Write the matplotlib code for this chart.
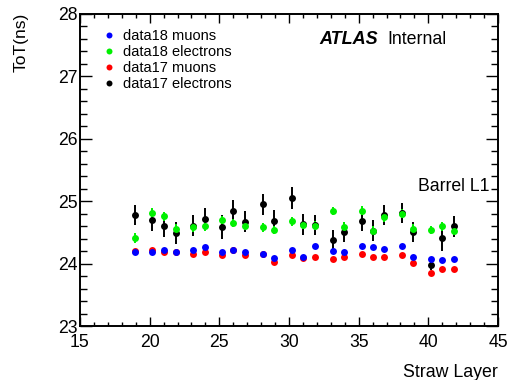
import matplotlib
matplotlib.use('Agg')
from matplotlib import pyplot as plt
from matplotlib.lines import Line2D
from matplotlib.ticker import MultipleLocator

plt.rcParams['font.family'] = ['Liberation Sans', 'DejaVu Sans']

# straw layer positions (24 layers of barrel L1)
layer = [18.95, 20.19, 21.03, 21.87, 23.13, 23.97, 25.22, 26.0, 26.85, 28.12, 28.95, 30.2,
         31.03, 31.87, 33.14, 33.95, 35.22, 36.06, 36.85, 38.14, 38.93, 40.2, 41.0, 41.85]

data18_muons = [24.19, 24.18, 24.21, 24.18, 24.22, 24.26, 24.19, 24.21, 24.19, 24.16, 24.09, 24.22,
                24.10, 24.29, 24.20, 24.19, 24.29, 24.26, 24.23, 24.29, 24.11, 24.07, 24.05, 24.07]
data18_muons_err = [0.01] * 24

data18_electrons = [24.41, 24.81, 24.76, 24.56, 24.58, 24.60, 24.70, 24.65, 24.61, 24.58, 24.54, 24.68,
                    24.62, 24.61, 24.84, 24.59, 24.85, 24.53, 24.74, 24.80, 24.56, 24.54, 24.60, 24.53]
data18_electrons_err = [0.08, 0.08, 0.07, 0.07, 0.07, 0.07, 0.07, 0.07, 0.07, 0.07, 0.07, 0.07,
                        0.07, 0.07, 0.06, 0.07, 0.07, 0.07, 0.07, 0.07, 0.07, 0.06, 0.07, 0.07]

data17_muons = [24.20, 24.21, 24.18, 24.18, 24.15, 24.18, 24.14, 24.21, 24.14, 24.15, 24.03, 24.14,
                24.09, 24.11, 24.08, 24.11, 24.16, 24.10, 24.11, 24.14, 24.01, 23.85, 23.92, 23.92]
data17_muons_err = [0.01] * 24

data17_electrons = [24.78, 24.70, 24.61, 24.49, 24.61, 24.72, 24.59, 24.85, 24.67, 24.95, 24.69, 25.05,
                    24.63, 24.62, 24.38, 24.51, 24.69, 24.53, 24.78, 24.81, 24.50, 23.97, 24.41, 24.60]
data17_electrons_err = [0.16, 0.17, 0.19, 0.17, 0.17, 0.17, 0.19, 0.17, 0.17, 0.17, 0.17, 0.17,
                        0.17, 0.16, 0.16, 0.16, 0.17, 0.17, 0.16, 0.16, 0.16, 0.08, 0.21, 0.17]

W, H = 510, 380
fig = plt.figure(figsize=(W / 100, H / 100), dpi=100)
ax = fig.add_axes([80 / W, 54 / H, 418 / W, 312 / H])


def draw(y, err, color):
    ax.errorbar(layer, y, yerr=err, fmt='o', color=color, ms=5.0, mew=0,
                elinewidth=1.4, capsize=0)


draw(data17_muons, data17_muons_err, 'red')
draw(data17_electrons, data17_electrons_err, 'black')
draw(data18_muons, data18_muons_err, 'blue')
draw(data18_electrons, data18_electrons_err, '#00f000')

ax.set_xlim(15, 45)
ax.set_ylim(23, 28)
ax.xaxis.set_major_locator(MultipleLocator(5))
ax.xaxis.set_minor_locator(MultipleLocator(1))
ax.yaxis.set_major_locator(MultipleLocator(1))
ax.yaxis.set_minor_locator(MultipleLocator(0.2))
ax.tick_params(which='both', direction='in', top=True, right=True, width=1.0, labelsize=12.7)
ax.xaxis.set_tick_params(which='major', length=6.5, pad=5.5)
ax.xaxis.set_tick_params(which='minor', length=3.2)
ax.yaxis.set_tick_params(which='major', length=8.6, pad=1.5)
ax.yaxis.set_tick_params(which='minor', length=4.8)
for sp in ax.spines.values():
    sp.set_linewidth(1.4)

handles = [Line2D([], [], ls='none', marker='o', ms=4.3, mew=0, color=c)
           for c in ['blue', '#00f000', 'red', 'black']]
labels = ['data18 muons', 'data18 electrons', 'data17 muons', 'data17 electrons']
fig.legend(handles, labels, loc='upper left', bbox_to_anchor=(101.7 / W, 1 - 29 / H),
           frameon=False, fontsize=10.5, handlelength=1.0, handletextpad=0.46,
           labelspacing=0.13, borderpad=0, borderaxespad=0)

fig.text(319 / W, 1 - 44 / H, 'ATLAS', fontsize=13, fontweight='bold', fontstyle='italic',
         va='baseline', ha='left')
fig.text(387 / W, 1 - 44 / H, 'Internal', fontsize=12.8, va='baseline', ha='left')
fig.text(490 / W, 1 - 191 / H, 'Barrel L1', fontsize=12.7, va='baseline', ha='right')

fig.text(21 / W, 1 - 13 / H, 'ToT(ns)', fontsize=12.5, rotation=90, ha='center', va='top')
fig.text(498 / W, 1 - 377 / H, 'Straw Layer', fontsize=12.8, ha='right', va='baseline')

fig.savefig('out.png', dpi=100)
